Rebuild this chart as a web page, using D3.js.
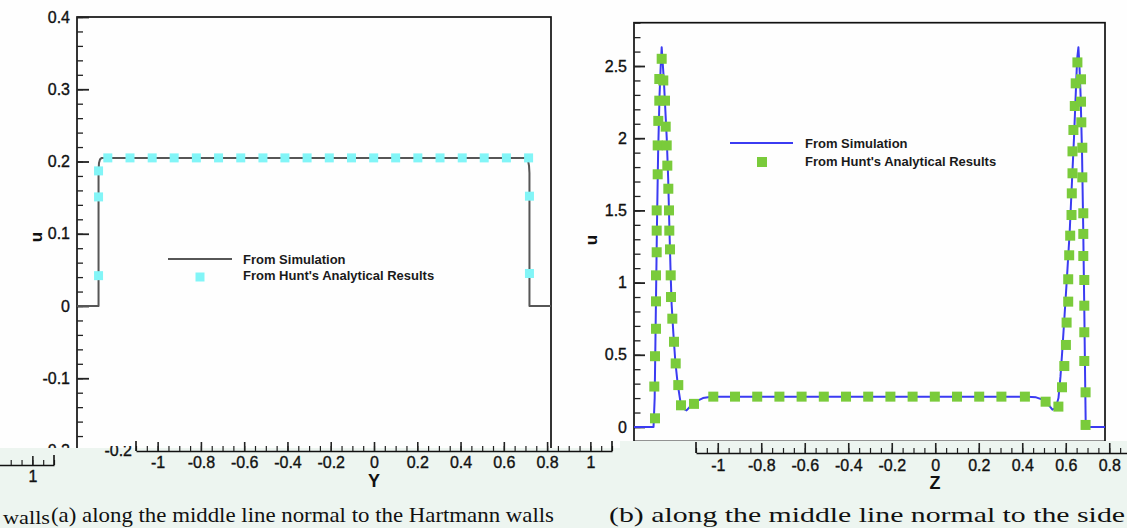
<!DOCTYPE html>
<html>
<head>
<meta charset="utf-8">
<script src="https://cdn.jsdelivr.net/npm/d3@7"></script>
<style>
  html, body { margin: 0; padding: 0; background: #ffffff; }
  svg { display: block; }
</style>
</head>
<body>
<svg id="fig" width="1127" height="528"></svg>
<script>
// ---- (a) Hartmann-wall profile: u along Y ----
const simAY = [-1.1, -1.0, -1.0, -0.998, -0.993, -0.985, 0.985, 0.993, 0.998, 1.0, 1.0, 1.1];
const simAU = [0, 0, 0.186, 0.198, 0.203, 0.205, 0.205, 0.202, 0.194, 0.184, 0, 0];
const huntAY = [-1.0, -1.0, -1.0,
  -0.957, -0.854, -0.751, -0.649, -0.546, -0.443, -0.340, -0.237, -0.135, -0.032,
  0.071, 0.174, 0.277, 0.379, 0.482, 0.585, 0.688, 0.790, 0.893, 0.996,
  1.0, 1.0];
const huntAU = [0.042, 0.151, 0.187,
  0.205, 0.205, 0.205, 0.205, 0.205, 0.205, 0.205, 0.205, 0.205, 0.205,
  0.205, 0.205, 0.205, 0.205, 0.205, 0.205, 0.205, 0.205, 0.205, 0.205,
  0.152, 0.045];
const ticksAU = [-0.2, -0.1, 0, 0.1, 0.2, 0.3, 0.4];

// ---- (b) side-wall profile: u along Z ----
const simBZ = [-0.82, -0.752, -0.748, -0.744, -0.740, -0.736, -0.731, -0.727, -0.7236, -0.720, -0.716,
  -0.711, -0.706, -0.701, -0.697, -0.693, -0.689, -0.683, -0.676, -0.668, -0.658, -0.647, -0.637,
  -0.625, -0.605, -0.58, -0.55, 0.55, 0.58, 0.61, 0.625, 0.637, 0.648, 0.658, 0.665, 0.672, 0.68,
  0.688, 0.697, 0.705, 0.712, 0.718, 0.723, 0.7274, 0.731, 0.735, 0.740, 0.744, 0.748, 0.751, 0.753, 0.82];
const simBU = [0, 0, 0.2, 0.8, 1.4, 1.9, 2.3, 2.5, 2.63, 2.52, 2.4,
  2.2, 2.0, 1.72, 1.4, 1.1, 0.85, 0.65, 0.45, 0.3, 0.17, 0.125, 0.115,
  0.14, 0.175, 0.2, 0.21, 0.21, 0.205, 0.185, 0.15, 0.12, 0.13, 0.2, 0.35, 0.55, 0.8,
  1.05, 1.35, 1.7, 2.0, 2.3, 2.55, 2.63, 2.5, 2.3, 1.9, 1.4, 0.8, 0.3, 0, 0];
const huntBZ = [
  -0.7469, -0.7493, -0.7469, -0.7434, -0.7434, -0.7434, -0.7410, -0.7410, -0.7410, -0.7375, -0.7375, -0.7354, -0.7319, -0.7319, -0.7236,
  -0.7180, -0.7121, -0.7096, -0.7061, -0.7040, -0.7005, -0.6981, -0.6971, -0.6946, -0.6922, -0.6912, -0.6866, -0.6807, -0.6748, -0.6658, -0.6563,
  -0.6111, -0.5439, -0.4683, -0.3910, -0.3137, -0.2364, -0.1591, -0.0818, -0.0045, 0.0728, 0.1501, 0.2274, 0.3047, 0.3820, 0.4593, 0.5411,
  0.6132, 0.6577,
  0.6703, 0.6783, 0.6839, 0.6863, 0.6919, 0.6919, 0.6953, 0.6988, 0.7034, 0.7044, 0.7068, 0.7068, 0.7100, 0.7148, 0.7180, 0.7239,
  0.7365, 0.7365, 0.7375, 0.7410, 0.7410, 0.7444, 0.7444, 0.7444, 0.7479, 0.7479, 0.7479, 0.7479, 0.7524, 0.7524];
const huntBU = [
  0.06, 0.28, 0.49, 0.68, 0.87, 1.05, 1.21, 1.36, 1.50, 1.75, 1.95, 2.12, 2.26, 2.41, 2.55,
  2.40, 2.26, 2.08, 1.95, 1.81, 1.65, 1.50, 1.36, 1.23, 1.05, 0.90, 0.75, 0.59, 0.44, 0.29, 0.15,
  0.16, 0.21, 0.21, 0.21, 0.21, 0.21, 0.21, 0.21, 0.21, 0.21, 0.21, 0.21, 0.21, 0.21, 0.21, 0.21,
  0.175, 0.141,
  0.275, 0.422, 0.568, 0.723, 0.868, 1.023, 1.189, 1.325, 1.468, 1.618, 1.757, 1.909, 2.057, 2.223, 2.380, 2.525,
  2.408, 2.253, 2.110, 1.934, 1.729, 1.480, 1.337, 1.184, 1.018, 0.840, 0.656, 0.457, 0.240, 0.014];
const ticksBU = [0, 0.5, 1, 1.5, 2, 2.5];

// ---- separate coordinate strips under the panels ----
const stripTicks = [-1, -0.8, -0.6, -0.4, -0.2, 0, 0.2, 0.4, 0.6, 0.8, 1];
const legendLabels = ["From Simulation", "From Hunt's Analytical Results"];
const captionA = "(a) along the middle line normal to the Hartmann walls";
const captionB = "(b) along the middle line normal to the side";
const captionPrev = "walls";

const SANS = "'Liberation Sans', Arial, sans-serif";
const SERIF = "'Liberation Serif', 'Times New Roman', serif";

const svg = d3.select("#fig");
const fmt = d => String(d);
const lineColA = "#565656", markColA = "#82f5f7";
const lineColB = "#3b3bf2", markColB = "#7acb3b";
const band = "#edf5f0";

svg.append("rect").attr("width", 1127).attr("height", 528).attr("fill", "#fefefe");

function styleLabels(sel) {
  sel.style("font-family", SANS).style("font-size", "16px").style("fill", "#111")
    .style("stroke", "#111").style("stroke-width", "0.35px");
}

function yAxis(g, scale, majors, minorStep, majorLen, minorLen) {
  const [lo, hi] = scale.domain();
  const minors = d3.range(lo, hi + 1e-9, minorStep).map(v => +v.toFixed(4));
  g.append("g").call(d3.axisLeft(scale).tickValues(minors).tickSize(-minorLen).tickFormat(""))
    .call(s => s.select(".domain").remove())
    .call(s => s.selectAll("line").attr("stroke", "#222").attr("stroke-width", 1.3));
  g.append("g").call(d3.axisLeft(scale).tickValues(majors).tickSize(-majorLen).tickPadding(7).tickFormat(fmt))
    .call(s => s.select(".domain").remove())
    .call(s => s.selectAll("line").attr("stroke", "#222").attr("stroke-width", 1.8))
    .call(s => styleLabels(s.selectAll("text")));
}

function panel(opts) {
  const g = svg.append("g");
  const x = opts.x, y = opts.y;
  const [x0, x1] = x.range();
  const [yb, yt] = y.range();
  g.append("rect").attr("x", x0).attr("y", yt).attr("width", x1 - x0).attr("height", yb - yt)
    .attr("fill", "none").attr("stroke", "#111").attr("stroke-width", 1.7);
  const ax = g.append("g").attr("transform", `translate(${x0},0)`);
  yAxis(ax, y, opts.majors, opts.minorStep, opts.majorLen, opts.minorLen);

  const line = d3.line().x(d => x(d[0])).y(d => y(d[1]));
  g.append("path").datum(d3.zip(opts.simX, opts.simU)).attr("d", line)
    .attr("fill", "none").attr("stroke", opts.lineCol).attr("stroke-width", 2).attr("stroke-linejoin", "round");

  const s = opts.ms;
  g.append("g").selectAll("rect").data(d3.zip(opts.huntX, opts.huntU)).join("rect")
    .attr("x", d => x(d[0]) - s / 2).attr("y", d => y(d[1]) - s / 2)
    .attr("width", s).attr("height", s).attr("fill", opts.markCol);

  g.append("text").attr("transform", `translate(${opts.ulab[0]},${opts.ulab[1]}) rotate(-90)`)
    .attr("text-anchor", "middle").attr("dominant-baseline", "central")
    .style("font-family", SANS).style("font-size", "17px").style("font-weight", "bold").style("fill", "#111")
    .text("u");

  const L = opts.legend;
  g.append("line").attr("x1", L.x1).attr("x2", L.x2).attr("y1", L.y).attr("y2", L.y)
    .attr("stroke", opts.lineCol).attr("stroke-width", 1.8);
  g.append("rect").attr("x", L.mx - s / 2).attr("y", L.my - s / 2).attr("width", s).attr("height", s)
    .attr("fill", opts.markCol);
  legendLabels.forEach((t, i) => {
    g.append("text").attr("x", L.tx).attr("y", L.ty[i])
      .style("font-family", SANS).style("font-size", "13px").style("font-weight", "bold").style("fill", "#1a1a1a")
      .text(t);
  });
}

panel({
  x: d3.scaleLinear().domain([-1.1, 1.1]).range([77, 551]),
  y: d3.scaleLinear().domain([-0.2, 0.4]).range([450.5, 17]),
  majors: ticksAU, minorStep: 0.02, majorLen: 12, minorLen: 6,
  simX: simAY, simU: simAU, huntX: huntAY, huntU: huntAU,
  lineCol: lineColA, markCol: markColA, ms: 9,
  ulab: [36, 237],
  legend: { x1: 168, x2: 232, y: 259, mx: 200, my: 277, tx: 243, ty: [264, 280] }
});

panel({
  x: d3.scaleLinear().domain([-0.82, 0.82]).range([634, 1105]),
  y: d3.scaleLinear().domain([-0.1, 2.8]).range([441.4, 22.7]),
  majors: ticksBU, minorStep: 0.1, majorLen: 11, minorLen: 6.5,
  simX: simBZ, simU: simBU, huntX: huntBZ, huntU: huntBU,
  lineCol: lineColB, markCol: markColB, ms: 10,
  ulab: [591, 240],
  legend: { x1: 730, x2: 793, y: 143, mx: 762, my: 162, tx: 805, ty: [148, 166] }
});

// lower band holding the coordinate strips and captions
svg.append("rect").attr("x", 0).attr("y", 448).attr("width", 620).attr("height", 80).attr("fill", band);
svg.append("rect").attr("x", 620).attr("y", 441).attr("width", 507).attr("height", 87).attr("fill", band);

function strip(x, yLine, labels, name, nameX, majorLen, minorLen, labelGap, endTicks) {
  const g = svg.append("g");
  const [lo, hi] = x.domain();
  const minors = d3.range(lo, hi + 1e-9, 0.05).map(v => +v.toFixed(3)).filter(v => x(v) >= 0);
  g.append("g").attr("transform", `translate(0,${yLine})`)
    .call(d3.axisBottom(x).tickValues(minors).tickSize(-minorLen).tickFormat("").tickSizeOuter(0))
    .call(s => s.select(".domain").attr("stroke", "#111").attr("stroke-width", 1.6))
    .call(s => s.selectAll(".tick line").attr("stroke", "#222").attr("stroke-width", 1.2));
  g.append("g").attr("transform", `translate(0,${yLine})`)
    .call(d3.axisBottom(x).tickValues(labels).tickSize(-majorLen).tickPadding(labelGap).tickFormat(fmt))
    .call(s => s.select(".domain").remove())
    .call(s => s.selectAll("line").attr("stroke", "#222").attr("stroke-width", 1.6))
    .call(s => styleLabels(s.selectAll("text")));
  endTicks.forEach(v => {
    g.append("line").attr("x1", x(v)).attr("x2", x(v)).attr("y1", yLine).attr("y2", yLine - majorLen - 1)
      .attr("stroke", "#111").attr("stroke-width", 1.6);
  });
  if (name) {
    g.append("text").attr("x", nameX).attr("y", yLine + 36).attr("text-anchor", "middle")
      .style("font-family", SANS).style("font-size", "18px").style("font-weight", "bold").style("fill", "#111")
      .text(name);
  }
}

strip(d3.scaleLinear().domain([-1.1, 1.1]).range([136, 612]), 451, stripTicks, "Y", 374, 9, 5, 6, [-1.1, 1.1]);
strip(d3.scaleLinear().domain([-1.1, 1.1]).range([-422, 54]), 465, [1], null, 0, 9, 5, 6, [1.1]);
strip(d3.scaleLinear().domain([-1.1, 1.1]).range([696, 1174.5]), 453, stripTicks.slice(0, 10), "Z", 935, 10, 5, 7, [-1.1]);

// clipped leftover label near the left strip
svg.append("clipPath").attr("id", "cutTop").append("rect").attr("x", 80).attr("y", 446).attr("width", 60).attr("height", 20);
styleLabels(svg.append("text").attr("clip-path", "url(#cutTop)").attr("x", 132).attr("y", 456).attr("text-anchor", "end")
  .text("-0.2"));

// captions
svg.append("text").attr("x", 3).attr("y", 524)
  .style("font-family", SERIF).style("font-size", "19px").style("fill", "#111")
  .attr("textLength", 47).attr("lengthAdjust", "spacingAndGlyphs").text(captionPrev);
svg.append("text").attr("x", 51).attr("y", 522)
  .style("font-family", SERIF).style("font-size", "21px").style("fill", "#111")
  .attr("textLength", 503).attr("lengthAdjust", "spacingAndGlyphs").text(captionA);
svg.append("text").attr("x", 609).attr("y", 522)
  .style("font-family", SERIF).style("font-size", "21px").style("fill", "#111")
  .attr("textLength", 516).attr("lengthAdjust", "spacingAndGlyphs").text(captionB);
</script>
</body>
</html>
